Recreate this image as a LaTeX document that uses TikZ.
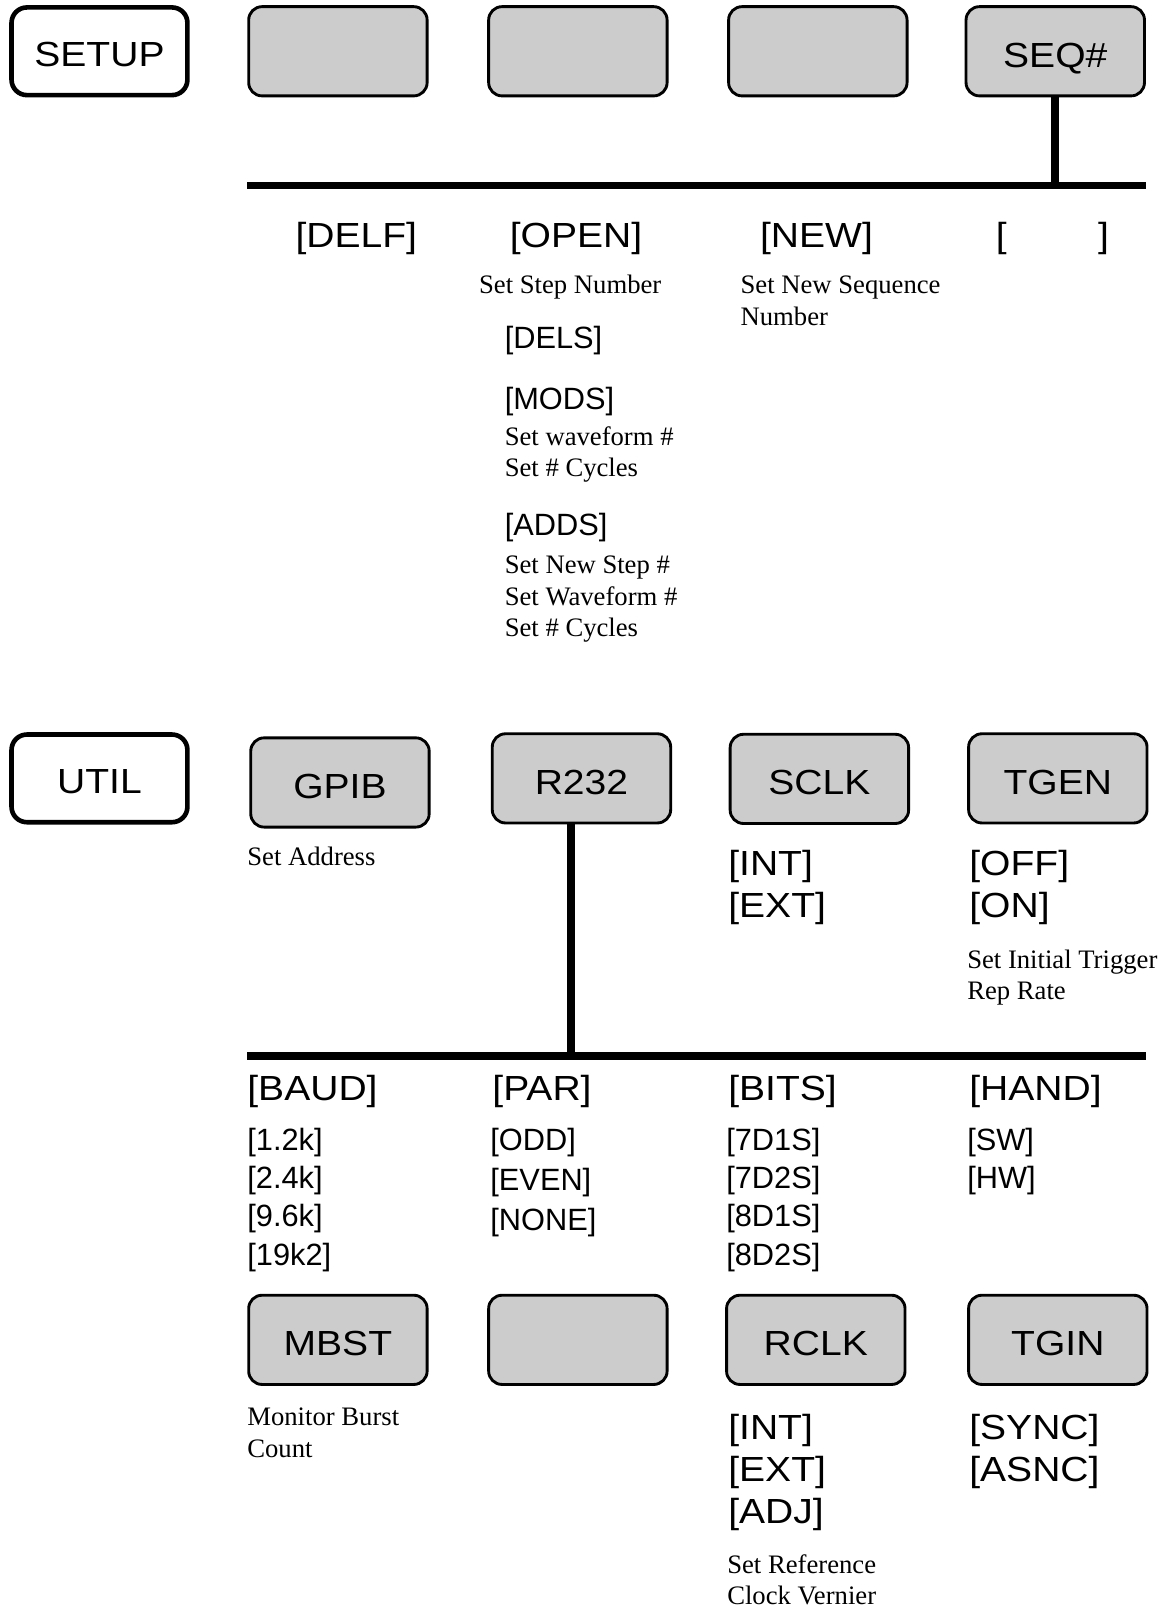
\documentclass[tikz,border=0pt]{standalone}
\usepackage{fontspec}
\setmainfont{Liberation Serif}
\newfontfamily\lblfont[FakeStretch=1.12]{Liberation Sans}
\newfontfamily\optfont{Liberation Sans}
\definecolor{keygray}{RGB}{204,204,204}
\tikzset{
  menubox/.style={draw, line width=4.5pt, rounded corners=15pt, minimum width=171.5pt, minimum height=85.5pt, inner sep=0pt, text height=24.3pt+6pt, text depth=0pt, font=\lblfont\fontsize{34}{40}\selectfont},
  keybox/.style={draw, line width=2.8pt, fill=keygray, rounded corners=13pt, minimum width=174pt, minimum height=87pt, inner sep=0pt, text height=24.3pt+7pt, text depth=0pt, font=\lblfont\fontsize{34}{40}\selectfont},
  bus/.style={line width=7.5pt},
  big/.style={anchor=base west, inner sep=0pt, font=\lblfont\fontsize{34}{40}\selectfont},
  opt/.style={anchor=base west, inner sep=0pt, font=\optfont\fontsize{30}{36}\selectfont},
  desc/.style={anchor=base west, inner sep=0pt, font=\fontsize{26}{31}\selectfont}
}
\begin{document}
\begin{tikzpicture}[x=1pt,y=-1pt]
\useasboundingbox (0,0) rectangle (1134,1568);
\fill[white] (0,0) rectangle (1134,1568);

% ---------- SETUP row ----------
\node[menubox] (setup) at (97,50) {SETUP};
\node[keybox] (k1) at (329.5,50) {};
\node[keybox] (k2) at (563.5,50) {};
\node[keybox] (k3) at (797.5,50) {};
\node[keybox] (seq) at (1029,50) {SEQ\#};

\coordinate (bus1l) at (241,181);
\coordinate (bus1r) at (1117,181);
\draw[bus] (bus1l) -- (bus1r);
\draw[bus] (seq.south) -- (seq.south |- bus1r);

\node[big] (delf) at (288,241) {[DELF]};
\node[big] (open) at (497,241) {[OPEN]};
\node[big] (new) at (741,241) {[NEW]};
\node[big] (empty) at (971,241) {[\hspace{89pt}]};

\node[desc] (setstep) at (467,286) {Set Step Number};
\node[desc] (setnewseq) at (722,286) {Set New Sequence};
\node[desc] (setnewseqb) at (722,317) {Number};

\node[opt] (dels) at (492,340) {[DELS]};
\node[opt] (mods) at (492,399) {[MODS]};
\node[desc] (modsa) at (492,434) {Set waveform \#};
\node[desc] (modsb) at (492,465) {Set \# Cycles};
\node[opt] (adds) at (492,522) {[ADDS]};
\node[desc] (addsa) at (492,559) {Set New Step \#};
\node[desc] (addsb) at (492,590) {Set Waveform \#};
\node[desc] (addsc) at (492,621) {Set \# Cycles};

% ---------- UTIL row ----------
\node[menubox] (util) at (97,759) {UTIL};
\node[keybox] (gpib) at (331.5,763) {GPIB};
\node[keybox] (r232) at (567,759) {R232};
\node[keybox] (sclk) at (799,759.5) {SCLK};
\node[keybox] (tgen) at (1031.5,759) {TGEN};

\node[desc] (setaddr) at (241,844) {Set Address};
\node[big] (sint) at (710,854) {[INT]};
\node[big] (sext) at (710,895) {[EXT]};
\node[big] (toff) at (945,854) {[OFF]};
\node[big] (ton) at (945,895) {[ON]};
\node[desc] (trga) at (943,944) {Set Initial Trigger};
\node[desc] (trgb) at (943,975) {Rep Rate};

\coordinate (bus2l) at (241,1029.5);
\coordinate (bus2r) at (1117,1029.5);
\draw[bus] (bus2l) -- (bus2r);
\coordinate (r232tap) at ([xshift=-10.5pt]r232.south);
\draw[bus] (r232tap) -- (r232tap |- bus2r);

\node[big] (baud) at (241,1073) {[BAUD]};
\node[big] (par) at (480,1073) {[PAR]};
\node[big] (bits) at (710,1073) {[BITS]};
\node[big] (hand) at (945,1073) {[HAND]};

\node[opt] (b1) at (241,1122) {[1.2k]};
\node[opt] (b2) at (241,1159) {[2.4k]};
\node[opt] (b3) at (241,1196) {[9.6k]};
\node[opt] (b4) at (241,1234) {[19k2]};

\node[opt] (p1) at (478,1122) {[ODD]};
\node[opt] (p2) at (478,1161) {[EVEN]};
\node[opt] (p3) at (478,1200) {[NONE]};

\node[opt] (d1) at (708,1122) {[7D1S]};
\node[opt] (d2) at (708,1159) {[7D2S]};
\node[opt] (d3) at (708,1196) {[8D1S]};
\node[opt] (d4) at (708,1234) {[8D2S]};

\node[opt] (h1) at (943,1122) {[SW]};
\node[opt] (h2) at (943,1159) {[HW]};

% ---------- bottom row ----------
\node[keybox] (mbst) at (329.5,1306.5) {MBST};
\node[keybox] (k4) at (563.5,1306.5) {};
\node[keybox] (rclk) at (795.5,1306.5) {RCLK};
\node[keybox] (tgin) at (1031.5,1306.5) {TGIN};

\node[desc] (mona) at (241,1390) {Monitor Burst};
\node[desc] (monb) at (241,1421) {Count};

\node[big] (rint) at (710,1404) {[INT]};
\node[big] (rext) at (710,1445) {[EXT]};
\node[big] (radj) at (710,1486) {[ADJ]};

\node[big] (sync) at (945,1404) {[SYNC]};
\node[big] (asnc) at (945,1445) {[ASNC]};

\node[desc] (refa) at (709,1534) {Set Reference};
\node[desc] (refb) at (709,1565) {Clock Vernier};
\end{tikzpicture}
\end{document}
